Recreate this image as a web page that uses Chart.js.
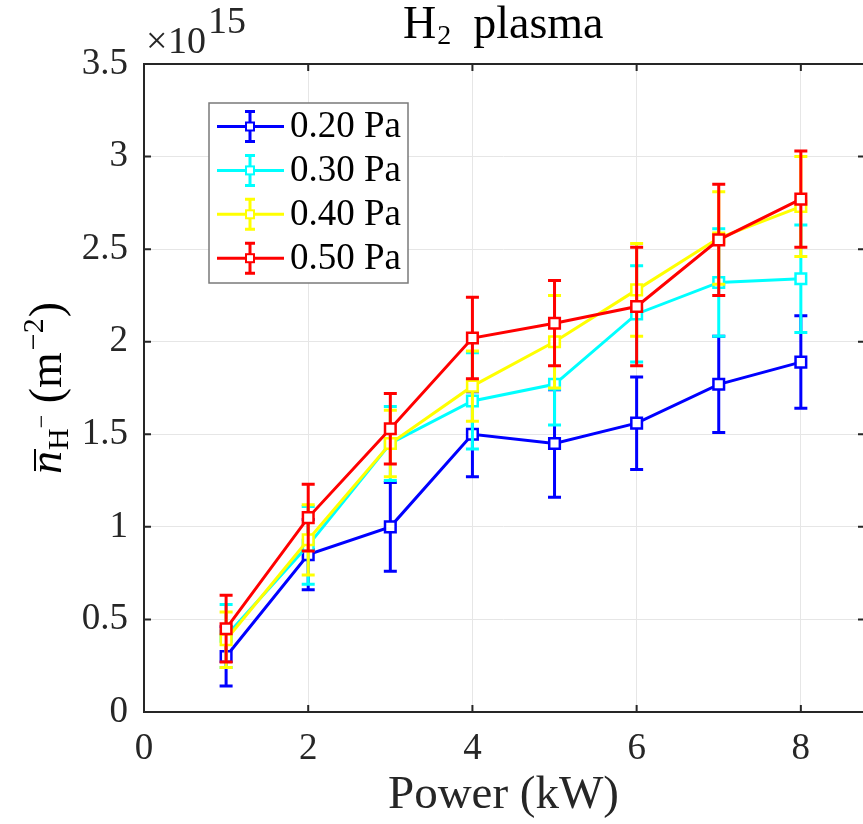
<!DOCTYPE html>
<html>
<head>
<meta charset="utf-8">
<script src="https://cdn.jsdelivr.net/npm/chart.js@4"></script>
<style>
  html, body { margin: 0; padding: 0; background: #fff; }
  #wrap { width: 863px; height: 824px; }
</style>
</head>
<body>
<div id="wrap"><canvas id="myChart" width="863" height="824"></canvas></div>
<script>
// power in kW, densities in units of 1e15 m^-2
var powerKW = [1, 2, 3, 4, 5, 6, 7, 8];

var n020 = [0.30, 0.85, 1.00, 1.50, 1.45, 1.56, 1.77, 1.89];
var err020 = [0.16, 0.19, 0.24, 0.23, 0.29, 0.25, 0.26, 0.25];
var n030 = [0.41, 0.90, 1.45, 1.68, 1.77, 2.15, 2.32, 2.34];
var err030 = [0.17, 0.21, 0.20, 0.26, 0.22, 0.26, 0.29, 0.29];
var n040 = [0.39, 0.93, 1.45, 1.76, 2.00, 2.28, 2.56, 2.73];
var err040 = [0.15, 0.19, 0.18, 0.19, 0.25, 0.25, 0.25, 0.27];
var n050 = [0.45, 1.05, 1.53, 2.02, 2.10, 2.19, 2.55, 2.77];
var err050 = [0.18, 0.18, 0.19, 0.22, 0.23, 0.32, 0.30, 0.26];

var seriesLabels = ['0.20 Pa', '0.30 Pa', '0.40 Pa', '0.50 Pa'];
var seriesColors = ['#0000ff', '#00ffff', '#ffff00', '#ff0000'];
var xTicks = [0, 2, 4, 6, 8];
var yTicks = [0, 0.5, 1, 1.5, 2, 2.5, 3, 3.5];
var yTickLabels = ['0', '0.5', '1', '1.5', '2', '2.5', '3', '3.5'];

var serif = "'Liberation Serif', 'DejaVu Serif', serif";
var axisColor = '#262626';

function pts(ys) {
    return powerKW.map(function (x, i) { return { x: x, y: ys[i] }; });
}

var values = [n020, n030, n040, n050];
var errors = [err020, err030, err040, err050];

var datasets = values.map(function (ys, k) {
    return {
        label: seriesLabels[k],
        data: pts(ys),
        errs: errors[k],
        borderColor: seriesColors[k],
        backgroundColor: seriesColors[k],
        borderWidth: 3,
        pointStyle: 'rect',
        pointRadius: 7.5,
        pointBorderWidth: 2.5,
        pointBackgroundColor: '#ffffff',
        pointBorderColor: seriesColors[k],
        fill: false,
        tension: 0,
        order: 4 - k
    };
});

// error bars, drawn just under each series' line
var errorBars = {
    id: 'errorBars',
    beforeDatasetDraw: function (chart, args) {
        var ds = chart.data.datasets[args.index];
        var xs = chart.scales.x, ys = chart.scales.y, ctx = chart.ctx;
        ctx.save();
        ctx.strokeStyle = ds.borderColor;
        ctx.lineWidth = 3;
        ds.data.forEach(function (p, i) {
            var e = ds.errs[i];
            var px = xs.getPixelForValue(p.x);
            var top = ys.getPixelForValue(p.y + e);
            var bot = ys.getPixelForValue(p.y - e);
            ctx.beginPath();
            ctx.moveTo(px, top); ctx.lineTo(px, bot);
            ctx.moveTo(px - 6.5, top); ctx.lineTo(px + 6.5, top);
            ctx.moveTo(px - 6.5, bot); ctx.lineTo(px + 6.5, bot);
            ctx.stroke();
        });
        ctx.restore();
    }
};

// box and inward ticks like the original axes
var frame = {
    id: 'frame',
    beforeDatasetsDraw: function (chart) {
        var a = chart.chartArea, ctx = chart.ctx;
        var xs = chart.scales.x, ys = chart.scales.y;
        ctx.save();
        ctx.strokeStyle = axisColor;
        ctx.lineWidth = 2;
        ctx.beginPath();
        ctx.moveTo(a.left, a.top); ctx.lineTo(a.right + 2, a.top);
        ctx.moveTo(a.left, a.top - 1); ctx.lineTo(a.left, a.bottom + 1);
        ctx.moveTo(a.left, a.bottom); ctx.lineTo(a.right + 2, a.bottom);
        xTicks.forEach(function (v) {
            var px = xs.getPixelForValue(v);
            ctx.moveTo(px, a.bottom); ctx.lineTo(px, a.bottom - 7);
            ctx.moveTo(px, a.top); ctx.lineTo(px, a.top + 7);
        });
        yTicks.forEach(function (v) {
            var py = ys.getPixelForValue(v);
            ctx.moveTo(a.left, py); ctx.lineTo(a.left + 7, py);
            ctx.moveTo(a.right + 1, py); ctx.lineTo(a.right - 5, py);
        });
        ctx.stroke();
        ctx.restore();
    },
    afterDraw: function (chart) {
        var a = chart.chartArea, ctx = chart.ctx;
        ctx.save();
        ctx.fillStyle = '#000';
        ctx.textBaseline = 'alphabetic';
        ctx.textAlign = 'left';

        // title: H_2 plasma
        var big = '46px ' + serif, sub = '28px ' + serif;
        ctx.font = big; var wH = ctx.measureText('H').width;
        ctx.font = sub; var w2 = ctx.measureText('2').width;
        var gap = 22;
        var tx = 403, ty = 38;
        ctx.font = big; ctx.fillText('H', tx, ty);
        ctx.font = sub; ctx.fillText('2', tx + wH + 1, ty + 6);
        ctx.font = big; ctx.fillText('plasma', tx + wH + w2 + 1 + gap, ty);

        // exponent above the y axis
        ctx.fillStyle = axisColor;
        ctx.font = '38px ' + serif;
        ctx.fillText('\u00d7', 146, 53);
        ctx.fillText('10', 168, 53);
        ctx.fillText('15', 208, 33);

        // y label: n-bar_{H^-} (m^{-2}), rotated
        ctx.fillStyle = '#000';
        var cy = (a.top + a.bottom) / 2, bx = 61;
        var fMain = '46px ' + serif, fIt = 'italic 46px ' + serif;
        var fSub = '30px ' + serif, fSS = '24px ' + serif;
        var parts = [
            { t: 'n', f: fIt, dv: 0, gap: 1 },
            { t: 'H', f: fSub, dv: 7, gap: 0 },
            { t: '\u2212', f: fSS, dv: -12, gap: 0 },
            { t: ' (m', f: fMain, dv: 0, gap: 2 },
            { t: '\u22122', f: fSub, dv: -18, gap: 1 },
            { t: ')', f: fMain, dv: 0, gap: 0 }
        ];
        var total = 0;
        parts.forEach(function (p) { ctx.font = p.f; p.w = ctx.measureText(p.t).width; total += p.w + p.gap; });
        ctx.translate(bx, cy);
        ctx.rotate(-Math.PI / 2);
        var u = -total / 2;
        parts.forEach(function (p, i) {
            ctx.font = p.f;
            ctx.fillText(p.t, u, p.dv);
            if (i === 0) {
                ctx.fillRect(u + 3, -27, p.w - 1, 2);
            }
            u += p.w + p.gap;
        });
        ctx.setTransform(1, 0, 0, 1, 0, 0);

        // legend box
        var lx = 209, ly = 103, lw = 199, lh = 180;
        ctx.fillStyle = '#fff';
        ctx.fillRect(lx, ly, lw, lh);
        ctx.strokeStyle = '#7a7a7a';
        ctx.lineWidth = 1.5;
        ctx.strokeRect(lx, ly, lw, lh);
        ctx.font = '37px ' + serif;
        ctx.textBaseline = 'middle';
        seriesLabels.forEach(function (lab, k) {
            var ry = 126.5 + k * 43.9;
            var c = seriesColors[k];
            ctx.strokeStyle = c;
            ctx.lineWidth = 3;
            ctx.beginPath();
            ctx.moveTo(217, ry); ctx.lineTo(284, ry);
            ctx.moveTo(250, ry - 15); ctx.lineTo(250, ry + 15);
            ctx.moveTo(245, ry - 15); ctx.lineTo(255, ry - 15);
            ctx.moveTo(245, ry + 15); ctx.lineTo(255, ry + 15);
            ctx.stroke();
            ctx.fillStyle = '#fff';
            ctx.fillRect(246, ry - 4, 8, 8);
            ctx.lineWidth = 2;
            ctx.strokeRect(246, ry - 4, 8, 8);
            ctx.fillStyle = '#000';
            ctx.fillText(lab, 290, ry + 1);
        });
        ctx.restore();
    }
};

var ctx = document.getElementById('myChart');
var myChart = new Chart(ctx, {
    type: 'line',
    data: { datasets: datasets },
    options: {
        responsive: false,
        animation: false,
        layout: { autoPadding: false, padding: { top: 64, right: 0, left: 0, bottom: 0 } },
        plugins: {
            legend: { display: false },
            tooltip: { enabled: false },
            title: { display: false }
        },
        scales: {
            x: {
                type: 'linear',
                min: 0,
                max: 8.757,
                afterFit: function (s) {
                    s.height = 112;
                    s.paddingLeft = 0; s.paddingRight = 0;
                },
                afterBuildTicks: function (s) { s.ticks = xTicks.map(function (v) { return { value: v }; }); },
                grid: { color: '#e6e6e6', lineWidth: 1, drawTicks: false },
                border: { display: false },
                ticks: {
                    padding: 15,
                    color: axisColor,
                    font: { family: serif, size: 37 },
                    maxRotation: 0
                },
                title: {
                    display: true,
                    text: 'Power (kW)',
                    color: axisColor,
                    font: { family: serif, size: 47 },
                    padding: { top: 0, bottom: 0 }
                }
            },
            y: {
                type: 'linear',
                min: 0,
                max: 3.5,
                afterFit: function (s) {
                    s.width = 144;
                    s.paddingTop = 0; s.paddingBottom = 0;
                },
                afterBuildTicks: function (s) { s.ticks = yTicks.map(function (v) { return { value: v }; }); },
                grid: { color: '#e6e6e6', lineWidth: 1, drawTicks: false },
                border: { display: false },
                ticks: {
                    padding: 16,
                    color: axisColor,
                    font: { family: serif, size: 37 },
                    callback: function (v, i) { return yTickLabels[i]; }
                }
            }
        }
    },
    plugins: [errorBars, frame]
});
</script>
</body>
</html>
